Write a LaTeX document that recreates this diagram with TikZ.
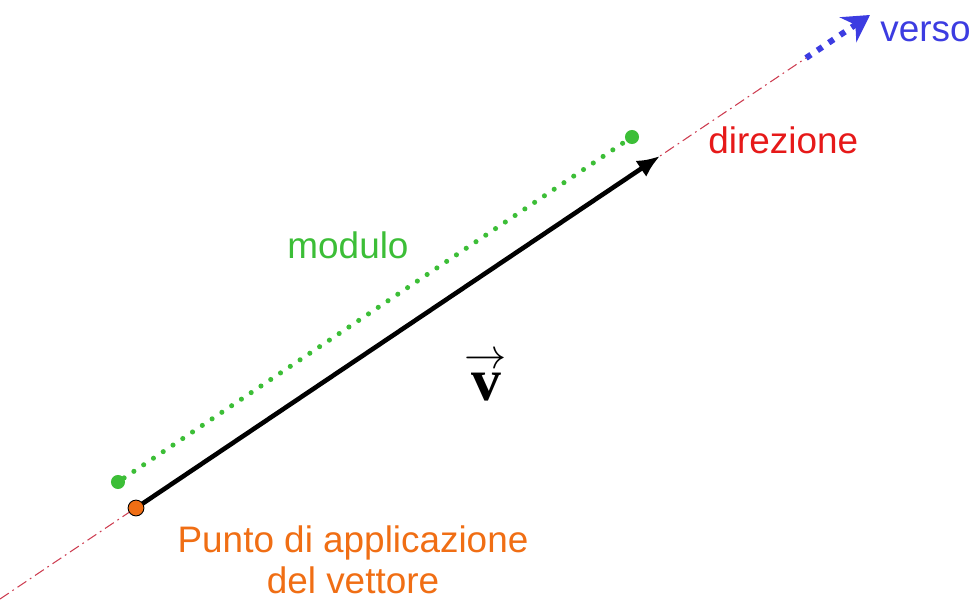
\documentclass[tikz,border=0pt]{standalone}
\usepackage{graphicx}
\usepackage[no-math]{fontspec}
\setmainfont{Liberation Sans}
\newfontfamily\vfont{Liberation Serif}
\usetikzlibrary{arrows.meta}
\definecolor{cgreen}{RGB}{60,190,55}
\definecolor{corange}{RGB}{240,110,20}
\definecolor{cred}{RGB}{230,25,25}
\definecolor{cblue}{RGB}{60,60,225}
\definecolor{caxis}{RGB}{205,60,80}
\tikzset{
  lbl/.style={font=\fontsize{21}{23}\selectfont, inner sep=0pt},
  axisline/.style={caxis, line width=0.6pt, dash pattern=on 6pt off 2.5pt on 1pt off 2.5pt},
  vecline/.style={black, line width=2.6pt, -{Latex[length=13pt,width=11pt]}},
  modline/.style={cgreen, line width=2.9pt, line cap=round, dash pattern=on 0pt off 6.7pt},
  versoline/.style={cblue, line width=3.4pt, dash pattern=on 3.4pt off 4.4pt, -{Stealth[length=15pt,width=17pt,inset=5pt]}},
  dot/.style={circle, fill=cgreen, minimum size=8pt, inner sep=0pt},
  origin/.style={circle, fill=corange, draw=black, line width=0.5pt, minimum size=9pt, inner sep=0pt}
}
\begin{document}
\begin{tikzpicture}[x=0.02cm,y=-0.02cm]
\useasboundingbox (0,0) rectangle (977,601);
\coordinate (axA) at (0,599);
\coordinate (axB) at (806,58);
\coordinate (tipV) at (870,15);
\coordinate (P) at (136,508);
\coordinate (Q) at (660,156);
\draw[axisline] (axA) -- (axB);
\draw[versoline] (axB) -- (tipV);
\node[dot] (g1) at (118,482) {};
\node[dot] (g2) at (632,137) {};
\draw[modline] (g1) -- (g2);
\draw[vecline] (P) -- (Q);
\node[origin] (o) at (P) {};
\node[lbl, cblue, anchor=west] (verso) at (880,32) {verso};
\node[lbl, cred, anchor=west] (dir) at (708,140) {direzione};
\node[lbl, cgreen] (mod) at (348,245) {modulo};
\node[lbl, corange, align=center] (pa) at (353,560) {Punto di applicazione\\del vettore};
\node[inner sep=0pt, align=center, font=\fontsize{34}{18}\selectfont] (v) at (486,377)
  {\scalebox{2.4}{\fontsize{10}{12}\selectfont$\rightarrow$}\\{\vfont\bfseries v}};
\end{tikzpicture}
\end{document}
